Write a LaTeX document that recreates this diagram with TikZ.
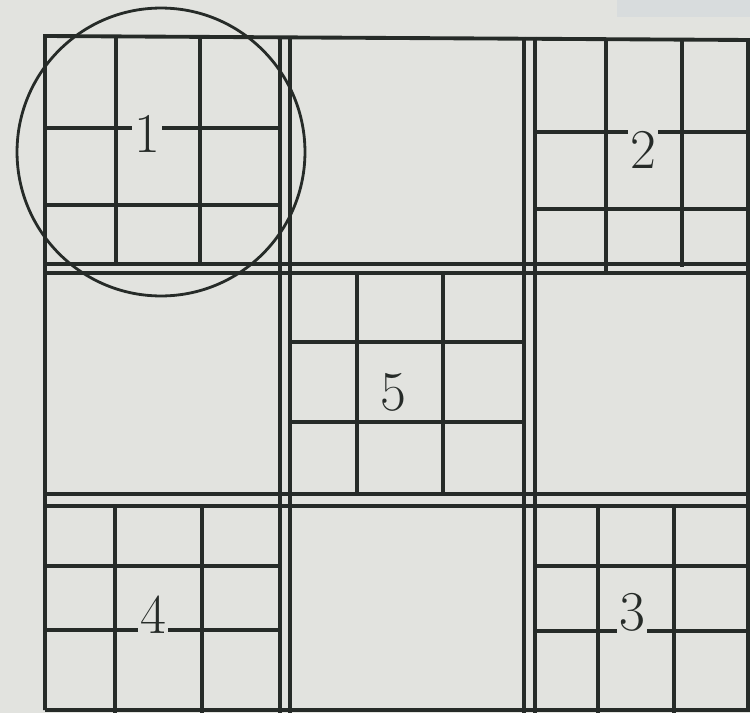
\documentclass[tikz,border=0pt]{standalone}
\usetikzlibrary{positioning}
\definecolor{paperGray}{HTML}{E2E3DF}
\definecolor{paperPatch}{HTML}{D8DCDD}
\definecolor{inkDark}{HTML}{262B28}
\tikzset{
  mainLine/.style={draw=inkDark, line width=2.2pt},
  cellLine/.style={draw=inkDark, line width=1.9pt},
  ringLine/.style={draw=inkDark, line width=1.6pt},
  digitLbl/.style={fill=paperGray, text=inkDark, inner sep=1pt,
                   font=\fontsize{32}{32}\selectfont},
}
\begin{document}
\begin{tikzpicture}[x=0.02cm, y=-0.02cm]
  % paper
  \fill[paperGray] (0,0) rectangle (750,713);
  \useasboundingbox (0,0) rectangle (750,713);
  \fill[paperPatch] (617,0) rectangle (750,17);

  % outer frame and double dividers
  \draw[mainLine] (45,710) -- (45,36) -- (750,40);
  \draw[mainLine] (748,40) -- (748,710);
  \draw[mainLine] (45,710) -- (750,710);
  \foreach \vx in {280,290,524,535}
    \draw[mainLine] (\vx,37) -- (\vx,713);
  \foreach \hy in {264,273,494,506}
    \draw[mainLine] (45,\hy) -- (750,\hy);

  % box 1
  \draw[cellLine] (116,37) -- (116,264) (200,37) -- (200,264);
  \draw[cellLine] (45,128) -- (280,128) (45,205) -- (280,205);
  % box 2
  \draw[cellLine] (606,40) -- (606,273) (682,40) -- (682,267);
  \draw[cellLine] (535,132) -- (750,132) (535,209) -- (750,209);
  % box 5
  \draw[cellLine] (357,273) -- (357,494) (443,273) -- (443,494);
  \draw[cellLine] (290,342) -- (524,342) (290,422) -- (524,422);
  % box 4
  \draw[cellLine] (115,506) -- (115,713) (202,506) -- (202,713);
  \draw[cellLine] (45,566) -- (280,566) (45,630) -- (280,630);
  % box 3
  \draw[cellLine] (598,506) -- (598,713) (674,506) -- (674,713);
  \draw[cellLine] (535,566) -- (750,566) (535,631) -- (750,631);

  % ring round box 1
  \node[circle, ringLine, minimum size=5.76cm, inner sep=0pt] (ring) at (161,152) {};

  % box numbers
  \node[digitLbl] (n1) at (147,134) {1};
  \node[digitLbl] (n2) at (643,150) {2};
  \node[digitLbl, fill=none] (n5) at (393,392) {5};
  \node[digitLbl] (n4) at (153,615) {4};
  \node[digitLbl] (n3) at (632,612) {3};
\end{tikzpicture}
\end{document}
